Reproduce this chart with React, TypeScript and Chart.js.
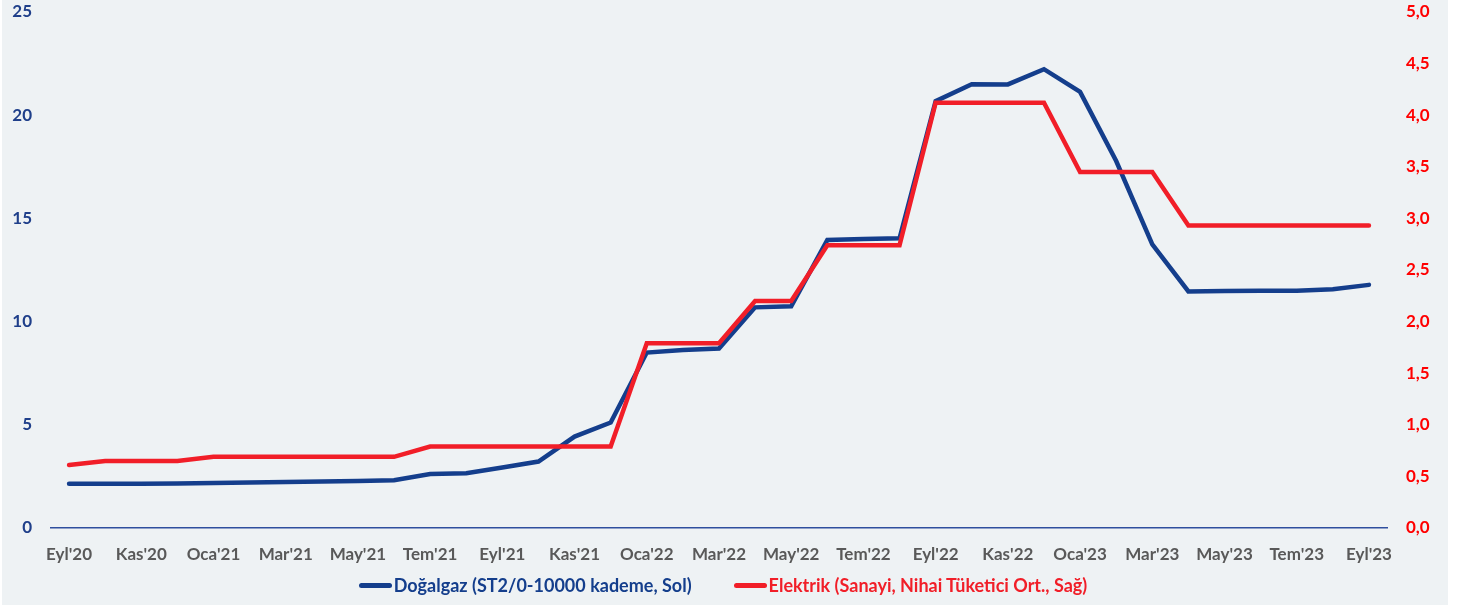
import React, { useEffect, useRef } from "react";
import { Chart, registerables } from "chart.js";

Chart.register(...registerables);

const monthLabels = [
  "Eyl'20", "Eki'20", "Kas'20", "Ara'20",
  "Oca'21", "Şub'21", "Mar'21", "Nis'21", "May'21", "Haz'21", "Tem'21", "Ağu'21", "Eyl'21", "Eki'21", "Kas'21", "Ara'21",
  "Oca'22", "Şub'22", "Mar'22", "Nis'22", "May'22", "Haz'22", "Tem'22", "Ağu'22", "Eyl'22", "Eki'22", "Kas'22", "Ara'22",
  "Oca'23", "Şub'23", "Mar'23", "Nis'23", "May'23", "Haz'23", "Tem'23", "Ağu'23", "Eyl'23",
];

const dogalgazValues = [
  2.14, 2.14, 2.14, 2.16,
  2.18, 2.2, 2.23, 2.25, 2.28, 2.31, 2.62, 2.65, 2.93, 3.22, 4.43, 5.11,
  8.5, 8.62, 8.7, 10.69, 10.74, 13.95, 14.0, 14.04, 20.68, 21.5, 21.49, 22.23,
  21.13, 17.78, 13.74, 11.46, 11.48, 11.5, 11.5, 11.57, 11.78,
];

const elektrikValues = [
  0.61, 0.65, 0.65, 0.65,
  0.69, 0.69, 0.69, 0.69, 0.69, 0.69, 0.79, 0.79, 0.79, 0.79, 0.79, 0.79,
  1.79, 1.79, 1.79, 2.2, 2.2, 2.74, 2.74, 2.74, 4.12, 4.12, 4.12, 4.12,
  3.45, 3.45, 3.45, 2.93, 2.93, 2.93, 2.93, 2.93, 2.93,
];

const seriesNames = [
  "Doğalgaz (ST2/0-10000 kademe, Sol)",
  "Elektrik (Sanayi, Nihai Tüketici Ort., Sağ)",
];

const BLUE = "#143e8c";
const RED = "#f11e28";
const FONT = "Lato, 'Open Sans', sans-serif";

export default function App() {
  const canvasRef = useRef<HTMLCanvasElement | null>(null);

  useEffect(() => {
    const canvas = canvasRef.current;
    if (!canvas) return;
    const chart = new Chart(canvas, {
      type: "line",
      data: {
        labels: monthLabels,
        datasets: [
          {
            label: seriesNames[0],
            data: dogalgazValues,
            borderColor: BLUE,
            backgroundColor: BLUE,
            borderWidth: 4.5,
            pointRadius: 0,
            tension: 0,
            borderCapStyle: "round",
            yAxisID: "y",
            order: 1,
          },
          {
            label: seriesNames[1],
            data: elektrikValues,
            borderColor: RED,
            backgroundColor: RED,
            borderWidth: 4.5,
            pointRadius: 0,
            tension: 0,
            borderCapStyle: "round",
            yAxisID: "y1",
            order: 0,
          },
        ],
      },
      options: {
        animation: false,
        responsive: true,
        maintainAspectRatio: false,
        layout: { padding: { top: 0, bottom: 37, left: 0, right: 0 } },
        plugins: {
          tooltip: { enabled: false },
          legend: { display: false },
        },
        scales: {
          x: {
            type: "category",
            offset: true,
            grid: { display: false, drawTicks: false },
            border: { display: true, color: "#2f4f9e", width: 1.5 },
            ticks: {
              autoSkip: false,
              maxRotation: 0,
              minRotation: 0,
              padding: 16,
              color: "#595959",
              font: { family: FONT, size: 17, weight: "bold" },
              callback: (_v: any, i: number) => (i % 2 === 0 ? monthLabels[i] : ""),
            },
            afterFit: (s: any) => {
              s.height = 40;
            },
          },
          y: {
            position: "left",
            min: 0,
            max: 25,
            grid: { display: false, drawTicks: false },
            border: { display: false },
            ticks: {
              stepSize: 5,
              padding: 19,
              color: "#1f3f8a",
              font: { family: FONT, size: 17, weight: "bold" },
            },
            afterFit: (s: any) => {
              s.width = 49;
              s.paddingTop = 12;
              s.paddingBottom = 0;
            },
          },
          y1: {
            position: "right",
            min: 0,
            max: 5,
            grid: { display: false, drawTicks: false },
            border: { display: false },
            ticks: {
              stepSize: 0.5,
              padding: 19,
              color: "#ff0000",
              font: { family: FONT, size: 17, weight: "bold" },
              callback: (v: any) => Number(v).toFixed(1).replace(".", ","),
            },
            afterFit: (s: any) => {
              s.width = 61;
              s.paddingTop = 12;
              s.paddingBottom = 0;
            },
          },
        },
      },
    });
    return () => chart.destroy();
  }, []);

  const legendItem = (color: string, text: string) => (
    <div style={{ display: "flex", alignItems: "center" }}>
      <span
        style={{
          display: "inline-block",
          width: 33,
          height: 5,
          borderRadius: 3,
          background: color,
          marginRight: 2,
        }}
      />
      <span style={{ color, fontFamily: FONT, fontWeight: 700, fontSize: 18, whiteSpace: "nowrap" }}>{text}</span>
    </div>
  );

  return (
    <div
      style={{
        position: "absolute",
        left: 2,
        top: 0,
        width: 1446,
        height: 605,
        background: "#eef2f4",
      }}
    >
      <div style={{ position: "absolute", left: 0, top: 0, width: 1446, height: 605 }}>
        <canvas ref={canvasRef} />
      </div>
      <div
        style={{
          position: "absolute",
          left: -2,
          top: 573,
          width: 1446,
          height: 24,
          display: "flex",
          justifyContent: "center",
          alignItems: "center",
          gap: 42,
        }}
      >
        {legendItem(BLUE, seriesNames[0])}
        {legendItem(RED, seriesNames[1])}
      </div>
    </div>
  );
}
